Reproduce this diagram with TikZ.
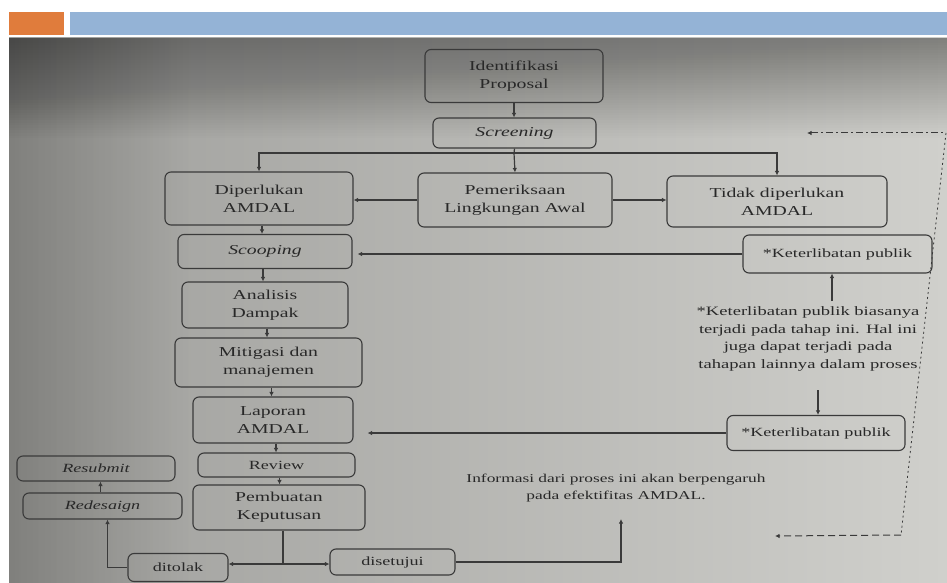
\documentclass[tikz,border=0pt]{standalone}
\usepackage{fontspec}
\setmainfont{Liberation Serif}[FakeStretch=1.45]
\usetikzlibrary{arrows.meta,calc}
\definecolor{bgL}{RGB}{158,158,155}
\definecolor{bgR}{RGB}{208,208,204}
\definecolor{ink}{RGB}{40,40,40}
\definecolor{edge}{RGB}{58,58,58}
\definecolor{hdrorange}{RGB}{224,124,60}
\definecolor{hdrblue}{RGB}{148,179,214}
\begin{document}
\begin{tikzpicture}[x=1pt,y=-1pt,
  box/.style={draw=edge, line width=1.1pt, rounded corners=6pt, align=center, text=ink,
    font=\fontsize{13.6}{18}\selectfont, inner sep=0pt},
  sbox/.style={box, font=\fontsize{12.5}{16}\selectfont},
  conn/.style={draw=edge, line width=1.2pt},
  arr/.style={conn, -{Latex[length=4.5pt,width=4.5pt]}},
  txt/.style={align=center, text=ink, inner sep=0pt}
]
\useasboundingbox (0,0) rectangle (947,583);
\fill[white] (0,0) rectangle (947,583);
\shade[left color=bgL, right color=bgR] (9,38) rectangle (947,583);
\foreach \k in {1,...,40} \fill[black, opacity=0.007] (9,38) rectangle (947,38+\k*2.5);
\foreach \k in {1,...,30} \fill[black, opacity=0.004] (9,38) rectangle (9+\k*6,583);
\fill[hdrorange] (9,12) rectangle (64,35);
\fill[hdrblue] (70,12) rectangle (947,35);

% nodes
\node[box, minimum width=178pt, minimum height=53pt] (ident) at (514,76) {Identifikasi\\Proposal};
\node[box, minimum width=163pt, minimum height=30pt] (screen) at (514.5,133) {\itshape Screening};
\node[box, minimum width=188pt, minimum height=53pt] (dip) at (259,198.5) {Diperlukan\\AMDAL};
\node[box, minimum width=194pt, minimum height=54pt] (pem) at (515,200) {Pemeriksaan\\Lingkungan Awal};
\node[box, minimum width=220pt, minimum height=51pt] (tidak) at (777,201.5) {Tidak diperlukan\\AMDAL};
\node[box, minimum width=174pt, minimum height=34pt] (scoop) at (265,251.5) {\itshape Scooping};
\node[sbox, minimum width=189pt, minimum height=38pt] (kp1) at (837.5,254) {*Keterlibatan publik};
\node[box, minimum width=166pt, minimum height=46pt] (anal) at (265,305) {Analisis\\Dampak};
\node[box, minimum width=187pt, minimum height=49pt] (miti) at (268.5,362.5) {Mitigasi dan\\manajemen};
\node[box, minimum width=160pt, minimum height=46pt] (lapor) at (273,420) {Laporan\\AMDAL};
\node[sbox, minimum width=157pt, minimum height=24pt] (review) at (276.5,465) {Review};
\node[box, minimum width=172pt, minimum height=45pt] (pemb) at (279,507.5) {Pembuatan\\Keputusan};
\node[sbox, minimum width=158pt, minimum height=25pt] (resub) at (96,468.5) {\itshape Resubmit};
\node[sbox, minimum width=159pt, minimum height=26pt] (redes) at (102.5,506) {\itshape Redesaign};
\node[sbox, minimum width=100pt, minimum height=28pt] (tolak) at (178,567.5) {ditolak};
\node[sbox, minimum width=125pt, minimum height=26pt] (setuju) at (392.5,562) {disetujui};
\node[sbox, minimum width=178pt, minimum height=35pt] (kp2) at (816,433) {*Keterlibatan publik};
\node[txt, font=\fontsize{12.8}{17.5}\selectfont] (note) at (808,339)
  {*Keterlibatan publik biasanya\\terjadi pada tahap ini. Hal ini\\juga dapat terjadi pada\\tahapan lainnya dalam proses};
\node[txt, font=\fontsize{12}{16.5}\selectfont] (info) at (616,488)
  {Informasi dari proses ini akan berpengaruh\\pada efektifitas AMDAL.};

% connectors
\draw[arr] (ident.south) -- (ident.south |- screen.north);
\coordinate (jt) at (514,153);
\draw[conn] (screen.south) -- (jt);
\draw[arr] (jt) -| (dip.north);
\draw[arr] (jt) -- (pem.north);
\draw[arr] (jt) -| (tidak.north);
\draw[arr] (pem.west) -- (pem.west -| dip.east);
\draw[arr] (pem.east) -- (pem.east -| tidak.west);
\draw[arr] ([xshift=3pt]dip.south) -- ([xshift=3pt]dip.south |- scoop.north);
\draw[arr, shorten >=5pt] (kp1.west) -- (kp1.west -| scoop.east);
\draw[arr] ([xshift=-2pt]scoop.south) -- ([xshift=-2pt]scoop.south |- anal.north);
\draw[arr] ([xshift=2pt]anal.south) -- ([xshift=2pt]anal.south |- miti.north);
\draw[arr] ([xshift=3pt]miti.south) -- ([xshift=3pt]miti.south |- lapor.north);
\draw[arr] ([xshift=3pt]lapor.south) -- ([xshift=3pt]lapor.south |- review.north);
\draw[arr] ([xshift=3pt]review.south) -- ([xshift=3pt]review.south |- pemb.north);
\coordinate (n1) at (832,301);
\draw[arr] (n1) -- (n1 |- kp1.south);
\coordinate (n2) at (818,390);
\draw[arr] (n2) -- (n2 |- kp2.north);
\draw[arr, shorten >=14pt] (kp2.west) -- (kp2.west -| lapor.east);
\coordinate (jb) at (283,564);
\draw[conn] (pemb.south -| jb) -- (jb);
\draw[arr] (jb) -- (jb -| tolak.east);
\draw[arr] (jb) -- (jb -| setuju.west);
\draw[arr] (tolak.west) -| ([xshift=5pt]redes.south);
\draw[arr] ([xshift=-2pt]redes.north) -- ([xshift=-2pt]redes.north |- resub.south);
\coordinate (infoend) at (621,519);
\draw[arr] (setuju.east) -| (infoend);

% dashed feedback path
\coordinate (dA) at (807,133);
\coordinate (dB) at (946,133);
\coordinate (dC) at (901,535);
\coordinate (dD) at (775,536);
\draw[conn, line width=1pt, dash pattern=on 7pt off 3pt on 2pt off 3pt, {Latex[length=4.5pt,width=4.5pt]}-] (dA) -- (dB);
\draw[conn, line width=0.8pt, dash pattern=on 2pt off 3pt] (dB) -- (dC);
\draw[conn, line width=1pt, dash pattern=on 7pt off 4pt, -{Latex[length=4.5pt,width=4.5pt]}] (dC) -- (dD);
\end{tikzpicture}
\end{document}
